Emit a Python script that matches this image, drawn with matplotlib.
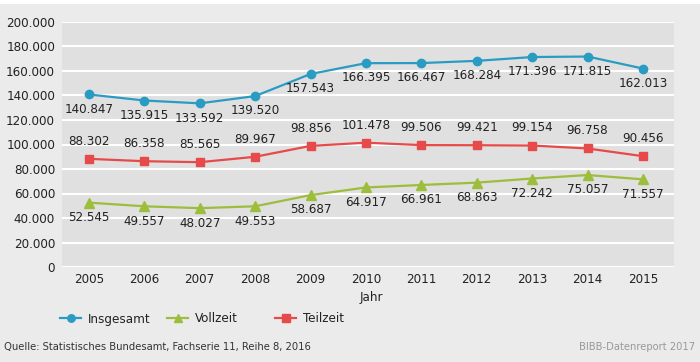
import matplotlib
matplotlib.use("Agg")
import matplotlib.pyplot as plt
from matplotlib.patches import Rectangle
from matplotlib.ticker import FuncFormatter

years = [2005, 2006, 2007, 2008, 2009, 2010, 2011, 2012, 2013, 2014, 2015]
insgesamt = [140847, 135915, 133592, 139520, 157543, 166395, 166467, 168284, 171396, 171815, 162013]
teilzeit = [88302, 86358, 85565, 89967, 98856, 101478, 99506, 99421, 99154, 96758, 90456]
vollzeit = [52545, 49557, 48027, 49553, 58687, 64917, 66961, 68863, 72242, 75057, 71557]

plt.rcParams['font.family'] = ['DejaVu Sans']
plt.rcParams['font.stretch'] = 'condensed'

BLUE = '#2a9cc4'
GREEN = '#9dbd3c'
RED = '#e64a4a'
FS = 9.5


def de(v):
    return f"{v:,.0f}".replace(",", ".")


fig = plt.figure(figsize=(7, 3.62), dpi=100, facecolor='#ebebeb')
fig.patches.append(Rectangle((0, 0.988), 1, 0.012, transform=fig.transFigure,
                             facecolor='white', edgecolor='none'))
ax = fig.add_axes([62 / 700, 1 - 267 / 362, (674 - 62) / 700, (267 - 22) / 362])
ax.set_facecolor('#e0e0e0')
for s in ax.spines.values():
    s.set_visible(False)

ax.set_ylim(0, 200000)
ax.set_yticks(range(0, 200001, 20000))
ax.yaxis.set_major_formatter(FuncFormatter(lambda v, p: de(v)))
ax.set_xlim(2005 - 0.485, 2015 + 0.56)
ax.set_xticks(years)
ax.tick_params(length=0, labelsize=FS, colors='#222222')
ax.tick_params(axis='x', pad=4)
ax.tick_params(axis='y', pad=5)
ax.grid(axis='y', color='white', linewidth=1.5)
ax.set_axisbelow(True)

l1, = ax.plot(years, insgesamt, color=BLUE, lw=1.6, marker='o', ms=6, label='Insgesamt')
l2, = ax.plot(years, vollzeit, color=GREEN, lw=1.6, marker='^', ms=6.5, label='Vollzeit')
l3, = ax.plot(years, teilzeit, color=RED, lw=1.6, marker='s', ms=6, label='Teilzeit')

for x, v in zip(years, insgesamt):
    ax.annotate(de(v), (x, v), xytext=(0, -6), textcoords='offset points',
                ha='center', va='top', fontsize=FS, color='#222222')
for x, v in zip(years, vollzeit):
    ax.annotate(de(v), (x, v), xytext=(0, -6), textcoords='offset points',
                ha='center', va='top', fontsize=FS, color='#222222')
for x, v in zip(years, teilzeit):
    ax.annotate(de(v), (x, v), xytext=(0, 8), textcoords='offset points',
                ha='center', va='bottom', fontsize=FS, color='#222222')

fig.text(371 / 700, 1 - 297 / 362, 'Jahr', ha='center', va='center', fontsize=FS, color='#222222')

# three single-entry legends, placed like the reference
for line, x0 in [(l1, 60), (l2, 167), (l3, 275)]:
    lg = fig.legend(handles=[line], loc='center left', bbox_to_anchor=(x0 / 700, 1 - 319 / 362),
                    frameon=False, fontsize=FS, handlelength=1.6, handletextpad=0.5,
                    borderaxespad=0, borderpad=0, markerscale=0.9)
    for t in lg.get_texts():
        t.set_color('#222222')

fig.text(4 / 700, 1 - 347 / 362, 'Quelle: Statistisches Bundesamt, Fachserie 11, Reihe 8, 2016',
         ha='left', va='center', fontsize=8, color='#333333')
fig.text(695 / 700, 1 - 347 / 362, 'BIBB-Datenreport 2017',
         ha='right', va='center', fontsize=8, color='#999999')

fig.savefig('out.png', dpi=100, facecolor=fig.get_facecolor())
